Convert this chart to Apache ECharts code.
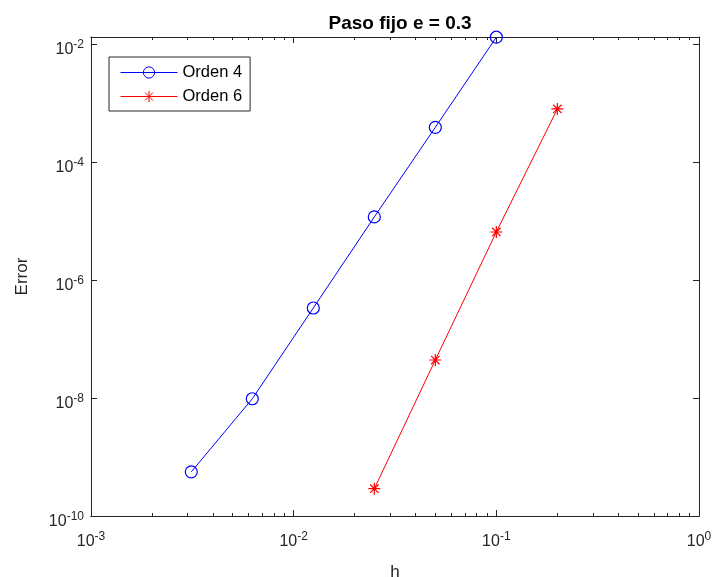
<!DOCTYPE html>
<html>
<head>
<meta charset="utf-8">
<script src="https://cdn.jsdelivr.net/npm/echarts@6/dist/echarts.min.js"></script>
<style>
  html, body { margin: 0; padding: 0; background: #fff; }
  #main { width: 714px; height: 577px; }
</style>
</head>
<body>
<div id="main"></div>
<script>
  // datos
  var hOrden4 = [0.1, 0.05, 0.025, 0.0125, 0.00625, 0.003125];
  var errOrden4 = [1.30e-2, 3.86e-4, 1.17e-5, 3.35e-7, 9.7e-9, 5.6e-10];
  var hOrden6 = [0.2, 0.1, 0.05, 0.025];
  var errOrden6 = [7.9e-4, 6.5e-6, 4.4e-8, 2.9e-10];

  var xTicks = [1e-3, 1e-2, 1e-1, 1];
  var yTicks = [1e-10, 1e-8, 1e-6, 1e-4, 1e-2];
  var xMinorTicks = [];
  for (var d = -3; d < 0; d++) {
    for (var m = 2; m <= 9; m++) xMinorTicks.push(m * Math.pow(10, d));
  }

  var axisColor = '#262626';
  var font = 'Liberation Sans, Arial, sans-serif';

  function pow10Label(v) {
    var e = Math.round(Math.log10(v));
    return '{b|10}{s|' + e + '}';
  }
  var labelRich = {
    b: { fontSize: 16, color: axisColor, fontFamily: font },
    s: { fontSize: 12, color: axisColor, fontFamily: font, padding: [0, 0, 10, 0] }
  };

  function xAxisOf(pos, ticks, len, withLabel) {
    return {
      type: 'log',
      min: 1e-3,
      max: 1,
      position: pos,
      axisLine: { show: true, lineStyle: { color: axisColor, width: 1 } },
      axisTick: { show: true, inside: true, length: len, customValues: ticks, lineStyle: { color: axisColor } },
      axisLabel: withLabel ? { show: true, customValues: xTicks, formatter: pow10Label, rich: labelRich, margin: 15 } : { show: false },
      splitLine: { show: false },
      minorTick: { show: false }
    };
  }

  function yAxisOf(pos, withLabel) {
    return {
      type: 'log',
      min: 1e-10,
      max: 0.0131,
      position: pos,
      axisLine: { show: true, lineStyle: { color: axisColor, width: 1 } },
      axisTick: { show: true, inside: true, length: 6, customValues: yTicks, lineStyle: { color: axisColor } },
      axisLabel: withLabel ? { show: true, customValues: yTicks, formatter: pow10Label, rich: labelRich, margin: 7, padding: [11, 0, 0, 0] } : { show: false },
      splitLine: { show: false }
    };
  }

  var charts = echarts.init(document.getElementById('main'));

  var xMain = xAxisOf('bottom', xTicks, 6, true);
  xMain.name = 'h';
  xMain.nameLocation = 'middle';
  xMain.nameGap = 48;
  xMain.nameTextStyle = { fontSize: 17, color: axisColor, fontFamily: font };

  var yMain = yAxisOf('left', true);
  yMain.name = 'Error';
  yMain.nameLocation = 'middle';
  yMain.nameGap = 60;
  yMain.nameTextStyle = { fontSize: 17, color: axisColor, fontFamily: font };

  charts.setOption({
    animation: false,
    backgroundColor: '#fff',
    title: {
      text: 'Paso fijo e = 0.3',
      left: 395,
      textAlign: 'center',
      top: 9,
      textStyle: { fontSize: 19, fontWeight: 'bold', color: '#000', fontFamily: font }
    },
    grid: { left: 91, right: 15, top: 37, bottom: 61, containLabel: false, outerBoundsMode: 'none' },
    legend: {
      orient: 'vertical',
      left: 109,
      top: 57,
      itemWidth: 57,
      itemHeight: 14,
      itemGap: 7,
      padding: [7, 8, 6, 11],
      borderColor: axisColor,
      borderWidth: 1,
      backgroundColor: '#fff',
      lineStyle: { width: 1 },
      itemStyle: { borderWidth: 1 },
      textStyle: { fontSize: 16.5, lineHeight: 16, color: '#000', fontFamily: font },
      data: ['Orden 4', 'Orden 6']
    },
    xAxis: [
      xMain,
      xAxisOf('top', xTicks, 6, false),
      xAxisOf('bottom', xMinorTicks, 3, false),
      xAxisOf('top', xMinorTicks, 3, false)
    ],
    yAxis: [
      yMain,
      yAxisOf('right', false)
    ],
    series: [{
      name: 'Orden 4',
      type: 'line',
      xAxisIndex: 0,
      yAxisIndex: 0,
      clip: false,
      data: hOrden4.map(function (h, i) { return [h, errOrden4[i]]; }),
      symbol: 'circle',
      symbolSize: 12,
      showAllSymbol: true,
      lineStyle: { color: '#0000ff', width: 1 },
      itemStyle: { color: 'rgba(0,0,0,0)', borderColor: '#0000ff', borderWidth: 1.2 }
    }, {
      name: 'Orden 6',
      type: 'line',
      xAxisIndex: 0,
      yAxisIndex: 0,
      clip: false,
      data: hOrden6.map(function (h, i) { return [h, errOrden6[i]]; }),
      symbol: 'path://M0,-10L0,10M-10,0L10,0M-7,-7L7,7M-7,7L7,-7',
      symbolSize: 12,
      showAllSymbol: true,
      lineStyle: { color: '#ff0000', width: 1 },
      itemStyle: { color: '#ff0000', borderColor: '#ff0000', borderWidth: 1.2 }
    }]
  });
</script>
</body>
</html>
